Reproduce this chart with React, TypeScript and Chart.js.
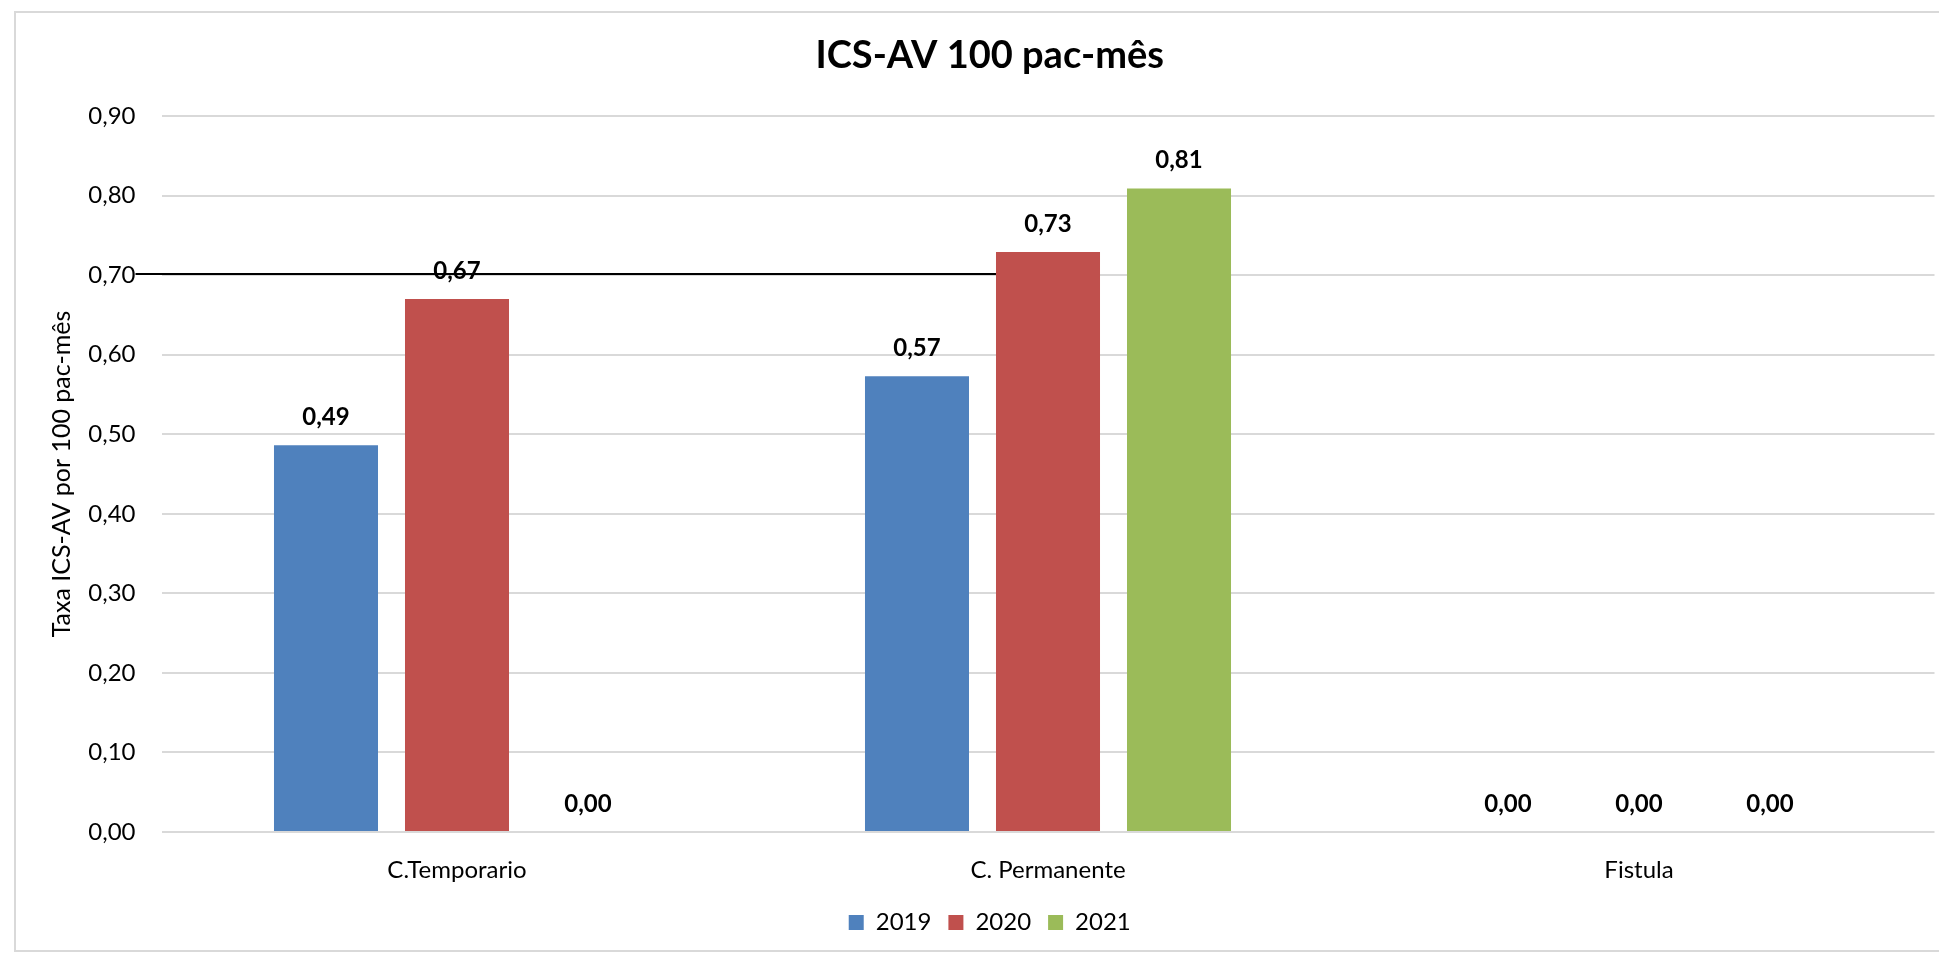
import React, { useEffect, useRef } from 'react';
import { Chart, registerables } from 'chart.js';

Chart.register(...registerables);

// ---- data ----
const categories = ['C.Temporario', 'C. Permanente', 'Fistula'];
const seriesNames = ['2019', '2020', '2021'];
const values2019 = [0.486, 0.573, 0.0];
const values2020 = [0.67, 0.729, 0.0];
const values2021 = [0.0, 0.809, 0.0];
const seriesColors = ['#4f81bd', '#c0504d', '#9bbb59'];
const yMin = 0;
const yMax = 0.9;
const yStep = 0.1;
const referenceValue = 0.7;
const chartTitle = 'ICS-AV 100 pac-mês';
const yAxisTitle = 'Taxa ICS-AV por 100 pac-mês';

const FONT = 'Lato, "Open Sans", sans-serif';
const fmt = (v: number) => Number(v).toFixed(2).replace('.', ',');

const refLinePlugin = {
  id: 'refLine',
  beforeDatasetsDraw(chart: any) {
    const y = chart.scales.y;
    const meta = chart.getDatasetMeta(1);
    const bar = meta.data[1] as any;
    if (!bar) return;
    const py = Math.round(y.getPixelForValue(referenceValue)) - 1;
    const x0 = y.right - y.options.ticks.padding;
    const x1 = bar.x - bar.width / 2;
    const ctx = chart.ctx;
    ctx.save();
    ctx.strokeStyle = '#000';
    ctx.lineWidth = 2;
    ctx.beginPath();
    ctx.moveTo(x0, py);
    ctx.lineTo(x1, py);
    ctx.stroke();
    ctx.restore();
  },
};

const valueLabelPlugin = {
  id: 'valueLabels',
  afterDatasetsDraw(chart: any) {
    const ctx = chart.ctx;
    ctx.save();
    ctx.font = `bold 24px ${FONT}`;
    ctx.fillStyle = '#000';
    ctx.textAlign = 'center';
    ctx.textBaseline = 'alphabetic';
    chart.data.datasets.forEach((ds: any, i: number) => {
      const meta = chart.getDatasetMeta(i);
      meta.data.forEach((el: any, j: number) => {
        ctx.fillText(fmt(ds.data[j]), el.x, el.y - 20);
      });
    });
    ctx.restore();
  },
};

export default function App() {
  const canvasRef = useRef<HTMLCanvasElement | null>(null);

  useEffect(() => {
    let chart: Chart | null = null;
    let cancelled = false;
    const make = () => {
      if (cancelled || !canvasRef.current) return;
      chart = new Chart(canvasRef.current, {
        type: 'bar',
        data: {
          labels: categories,
          datasets: [values2019, values2020, values2021].map((d, i) => ({
            label: seriesNames[i],
            data: d,
            backgroundColor: seriesColors[i],
            borderWidth: 0,
            categoryPercentage: 0.665,
            barPercentage: 0.794,
          })),
        },
        options: {
          animation: false,
          responsive: true,
          maintainAspectRatio: false,
          devicePixelRatio: 1,
          layout: { padding: { left: 45, right: 4.5, top: 0, bottom: 10.5 } },
          plugins: {
            title: {
              display: true,
              text: chartTitle,
              color: '#000',
              font: { family: FONT, size: 38, weight: 'bold' },
              padding: { top: 32.5, bottom: 37.9 },
            },
            legend: {
              position: 'bottom',
              labels: {
                color: '#000',
                font: { family: FONT, size: 24 },
                boxWidth: 15,
                boxHeight: 15,
                padding: 17,
              },
            },
            tooltip: { enabled: false },
          },
          scales: {
            x: {
              grid: { display: false },
              border: { display: false },
              ticks: {
                color: '#000',
                font: { family: FONT, size: 24 },
                padding: 16,
              },
              afterFit: (s: any) => {
                s.height = 61.5;
              },
            },
            y: {
              min: yMin,
              max: yMax,
              grid: { color: '#d9d9d9', lineWidth: 2, drawTicks: false },
              border: { display: false },
              ticks: {
                stepSize: yStep,
                color: '#000',
                font: { family: FONT, size: 24 },
                padding: 26,
                callback: (v: any) => fmt(v),
              },
              title: {
                display: true,
                text: yAxisTitle,
                color: '#000',
                font: { family: FONT, size: 25 },
                padding: { top: 2, bottom: 0 },
              },
              afterFit: (s: any) => {
                s.width = 116.5;
              },
            },
          },
        },
        plugins: [refLinePlugin, valueLabelPlugin],
      } as any);
    };
    const loads = (document as any).fonts
      ? Promise.all([
          (document as any).fonts.load(`bold 38px Lato`),
          (document as any).fonts.load(`24px Lato`),
        ]).catch(() => null)
      : Promise.resolve(null);
    loads.then(make);
    return () => {
      cancelled = true;
      if (chart) chart.destroy();
    };
  }, []);

  return (
    <div
      style={{
        position: 'fixed',
        left: 0,
        top: 0,
        width: 1939,
        height: 955,
        overflow: 'hidden',
        background: '#fff',
      }}
    >
      <div
        style={{
          position: 'absolute',
          left: 14,
          top: 11,
          width: 1960,
          height: 937,
          border: '2px solid #d9d9d9',
        }}
      />
      <div style={{ position: 'absolute', left: 0, top: 0, width: 1939, height: 955 }}>
        <canvas ref={canvasRef} />
      </div>
    </div>
  );
}
